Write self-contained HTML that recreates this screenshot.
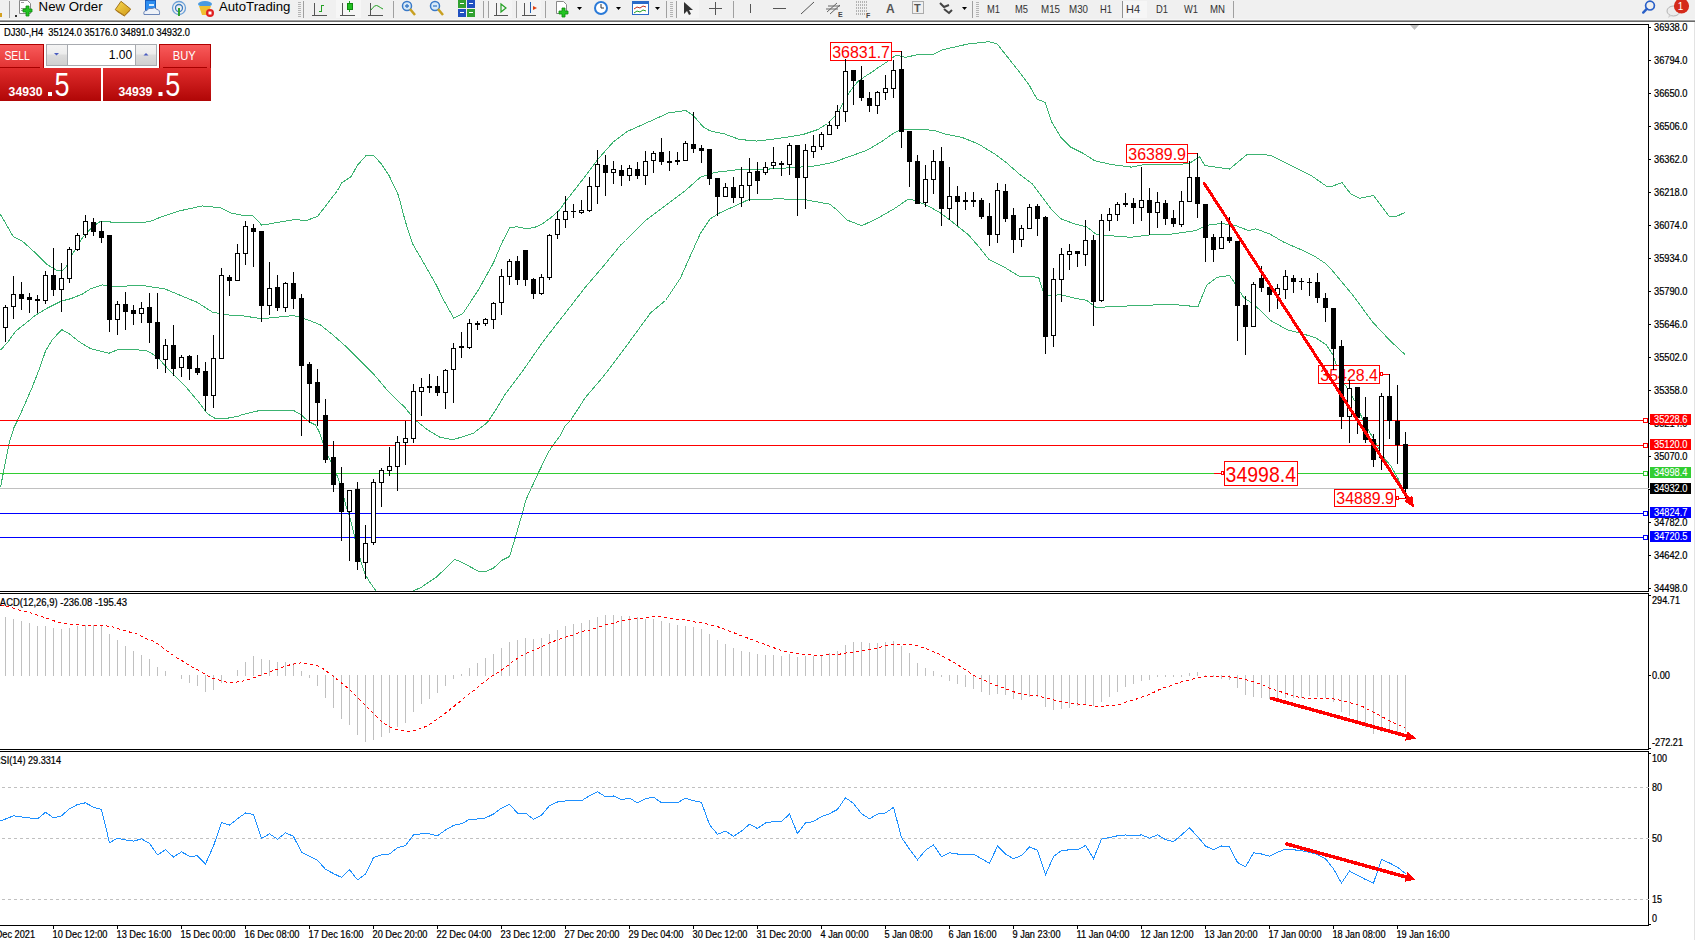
<!DOCTYPE html><html><head><meta charset="utf-8"><style>html,body{margin:0;padding:0;background:#fff;overflow:hidden}svg{display:block}text{font-family:"Liberation Sans", sans-serif}</style></head><body>
<svg width="1695" height="940" viewBox="0 0 1695 940">
<rect x="0" y="0" width="1695" height="940" fill="#fff"/>
<rect x="0" y="0" width="1695" height="19" fill="#f0f0f0"/>
<rect x="0" y="19" width="1695" height="1" fill="#f6f6f6"/>
<rect x="0" y="20" width="1695" height="1" fill="#a0a0a0"/>
<rect x="0" y="21" width="1695" height="1" fill="#696969"/>
<g id="toolbar">
<g shape-rendering="crispEdges">
<rect x="0" y="13" width="2" height="4" fill="#d4a020"/>
<rect x="9" y="1" width="1" height="17" fill="#a0a0a0"/>
<rect x="15" y="15" width="2" height="2" fill="#333"/>
</g>
<path d="M19.5,0.5 h8 l3,3 v10 h-11 z" fill="#fff" stroke="#888" stroke-width="1"/>
<rect x="21" y="2" width="3" height="1" fill="#999"/><rect x="21" y="8" width="6" height="1" fill="#999"/><rect x="21" y="10" width="6" height="1" fill="#999"/>
<path d="M26,6 h3 v3 h3 v3 h-3 v4 h-3 v-4 h-3 v-3 h3 z" fill="#22c322" stroke="#0a8a0a" stroke-width="0.8"/>
<text x="38.6" y="10.5" font-size="12" fill="#000" textLength="64" lengthAdjust="spacingAndGlyphs">New Order</text>
<defs><linearGradient id="gbook" x1="0" y1="0" x2="1" y2="1"><stop offset="0" stop-color="#f8d850"/><stop offset="1" stop-color="#d09a18"/></linearGradient></defs>
<path d="M115.2,9.7 L121,1.3 L130.7,9.1 L124.6,15.6 Z" fill="url(#gbook)" stroke="#9a6a10" stroke-width="0.9"/>
<path d="M116.5,11 L124.3,16 L130.2,10.3" fill="none" stroke="#b07818" stroke-width="1"/>
<rect x="145.5" y="0.5" width="10" height="10" fill="#2e8ef0" stroke="#1a60c0" stroke-width="1"/>
<rect x="149" y="4" width="5" height="2" fill="#d8ecff"/>
<path d="M144,14.5 q-1,-4 3,-4 q1,-3 5,-2 q3,-2 5,1 q3,0 2.5,5 z" fill="#eef2f8" stroke="#5a78b0" stroke-width="0.9"/>
<circle cx="179" cy="8" r="6.5" fill="none" stroke="#6aa0d8" stroke-width="1.3"/>
<circle cx="179" cy="8" r="3.5" fill="none" stroke="#3a7ac0" stroke-width="1.3"/>
<path d="M179,8 v8" stroke="#30a030" stroke-width="2"/>
<ellipse cx="205" cy="4" rx="7" ry="3" fill="#4a9ae0"/>
<path d="M199,6 h12 l-3,9 h-6 z" fill="#f0c030"/>
<circle cx="210" cy="13" r="4" fill="#e02020"/><rect x="208.5" y="11.5" width="3" height="3" fill="#fff"/>
<text x="218.9" y="10.5" font-size="12" fill="#000" textLength="71.5" lengthAdjust="spacingAndGlyphs">AutoTrading</text>
<g shape-rendering="crispEdges">
<rect x="298" y="2" width="3" height="1" fill="#b4b4b4"/><rect x="298" y="4" width="3" height="1" fill="#b4b4b4"/><rect x="298" y="6" width="3" height="1" fill="#b4b4b4"/><rect x="298" y="8" width="3" height="1" fill="#b4b4b4"/><rect x="298" y="10" width="3" height="1" fill="#b4b4b4"/><rect x="298" y="12" width="3" height="1" fill="#b4b4b4"/><rect x="298" y="14" width="3" height="1" fill="#b4b4b4"/><rect x="298" y="16" width="3" height="1" fill="#b4b4b4"/>
<rect x="303" y="1" width="1" height="17" fill="#a0a0a0"/>
<rect x="314" y="3" width="1" height="13" fill="#555"/><rect x="312" y="15" width="15" height="1" fill="#555"/>
<rect x="321" y="5" width="1" height="7" fill="#22a022"/><rect x="322" y="5" width="2" height="1" fill="#22a022"/><rect x="319" y="11" width="2" height="1" fill="#22a022"/>
<rect x="336" y="0" width="25" height="18" fill="#f6f6f6"/>
<rect x="342" y="3" width="1" height="13" fill="#555"/><rect x="340" y="15" width="15" height="1" fill="#555"/>
<rect x="349" y="1" width="1" height="11" fill="#22a022"/><rect x="347" y="3" width="5" height="6" fill="#22c022" stroke="#118811"/>
<rect x="370" y="3" width="1" height="13" fill="#555"/><rect x="368" y="15" width="15" height="1" fill="#555"/>
</g>
<path d="M371,10 q4,-6 7,-4 t5,3" fill="none" stroke="#22a022" stroke-width="1"/>
<g shape-rendering="crispEdges">
<rect x="393" y="1" width="1" height="17" fill="#a0a0a0"/>
</g>
<circle cx="407" cy="6" r="4.5" fill="#d8eaf8" stroke="#3a7ac8" stroke-width="1.5"/>
<path d="M410,9 l5,6" stroke="#c8a020" stroke-width="2.5"/>
<path d="M405,6 h4 M407,4 v4" stroke="#3a7ac8" stroke-width="1.3"/>
<circle cx="435" cy="6" r="4.5" fill="#d8eaf8" stroke="#3a7ac8" stroke-width="1.5"/>
<path d="M438,9 l5,6" stroke="#c8a020" stroke-width="2.5"/>
<path d="M433,6 h4" stroke="#3a7ac8" stroke-width="1.3"/>
<g shape-rendering="crispEdges">
<rect x="458" y="0" width="8" height="8" fill="#30a030"/><rect x="467" y="0" width="8" height="8" fill="#2050c0"/>
<rect x="458" y="9" width="8" height="8" fill="#2050c0"/><rect x="467" y="9" width="8" height="8" fill="#30a030"/>
<rect x="460" y="3" width="4" height="1" fill="#fff"/><rect x="469" y="3" width="4" height="1" fill="#fff"/>
<rect x="460" y="12" width="4" height="1" fill="#fff"/><rect x="469" y="12" width="4" height="1" fill="#fff"/>
<rect x="483" y="1" width="1" height="17" fill="#a0a0a0"/>
<rect x="488" y="1" width="1" height="17" fill="#a0a0a0"/>
<rect x="489" y="0" width="23" height="18" fill="#f4f4f4"/>
<rect x="496" y="3" width="1" height="13" fill="#555"/><rect x="494" y="15" width="14" height="1" fill="#555"/>
<rect x="516" y="1" width="1" height="17" fill="#a0a0a0"/>
<rect x="517" y="0" width="24" height="18" fill="#f4f4f4"/>
<rect x="524" y="3" width="1" height="13" fill="#555"/><rect x="522" y="15" width="14" height="1" fill="#555"/>
<rect x="530" y="2" width="1" height="11" fill="#2060b0"/>
<rect x="545" y="1" width="1" height="17" fill="#a0a0a0"/>
</g>
<polygon points="501,4 506,8 501,12" fill="none" stroke="#22a022" stroke-width="1.2"/>
<polygon points="537,8 533,6 533,10" fill="#e04010"/>
<path d="M556.5,1.5 h7 l3,3 v9 h-10 z" fill="#fff" stroke="#888" stroke-width="1"/>
<path d="M562,8 h3 v3 h3 v3 h-3 v3 h-3 v-3 h-3 v-3 h3 z" fill="#22c322" stroke="#0a8a0a" stroke-width="0.8"/>
<polygon points="577,7 582,7 579.5,10" fill="#000"/>
<circle cx="601" cy="8" r="7" fill="#2a7ad8"/><circle cx="601" cy="8" r="5" fill="#fff"/>
<path d="M601,4 v4 h3" stroke="#333" stroke-width="1" fill="none"/>
<polygon points="616,7 621,7 618.5,10" fill="#000"/>
<rect x="632.5" y="1.5" width="16" height="13" fill="#fff" stroke="#2a6ac8" stroke-width="1"/>
<rect x="633" y="2" width="15" height="2" fill="#2a6ac8"/>
<path d="M634,9 l3,-2 l3,1 l3,-2 l3,1" stroke="#c03020" fill="none" stroke-width="1"/>
<path d="M634,13 l3,-2 l3,1 l3,-2 l3,1" stroke="#20a020" fill="none" stroke-width="1"/>
<polygon points="655,7 660,7 657.5,10" fill="#000"/>
<g shape-rendering="crispEdges">
<rect x="666" y="1" width="1" height="17" fill="#a0a0a0"/>
<rect x="670" y="2" width="3" height="1" fill="#b4b4b4"/><rect x="670" y="4" width="3" height="1" fill="#b4b4b4"/><rect x="670" y="6" width="3" height="1" fill="#b4b4b4"/><rect x="670" y="8" width="3" height="1" fill="#b4b4b4"/><rect x="670" y="10" width="3" height="1" fill="#b4b4b4"/><rect x="670" y="12" width="3" height="1" fill="#b4b4b4"/><rect x="670" y="14" width="3" height="1" fill="#b4b4b4"/><rect x="670" y="16" width="3" height="1" fill="#b4b4b4"/>
<rect x="676" y="1" width="1" height="17" fill="#a0a0a0"/>
<rect x="677" y="0" width="22" height="18" fill="#f4f4f4"/>
</g>
<path d="M684,2 v12 l3,-3 l2,4 l2,-1 l-2,-4 h4 z" fill="#333"/>
<g shape-rendering="crispEdges">
<rect x="715" y="2" width="1" height="13" fill="#555"/><rect x="709" y="8" width="13" height="1" fill="#555"/>
<rect x="733" y="1" width="1" height="17" fill="#a0a0a0"/>
<rect x="750" y="4" width="1" height="9" fill="#555"/>
<rect x="773" y="8" width="13" height="1" fill="#555"/>
</g>
<path d="M801,14 l13,-12" stroke="#555" stroke-width="1"/>
<path d="M827,12 l10,-9 M830,14 l10,-9 M826,9 h12 M828,6 h12" stroke="#666" stroke-width="1"/>
<text x="838" y="17" font-size="7" fill="#444" font-weight="bold">E</text>
<path d="M856,2 h12 M856,5 h12 M856,8 h12 M856,11 h12 M856,14 h10" stroke="#777" stroke-width="1" stroke-dasharray="1,1"/>
<text x="866" y="18" font-size="7" fill="#444" font-weight="bold">F</text>
<text x="886" y="13" font-size="12" fill="#555" font-weight="bold">A</text>
<rect x="912.5" y="1.5" width="11" height="12" fill="none" stroke="#666" stroke-dasharray="1,1"/>
<text x="914" y="12" font-size="11" fill="#555" font-weight="bold">T</text>
<path d="M940,3 l4,4 l5,-2 M944,9 l5,4 l3,-3" stroke="#444" stroke-width="2" fill="none"/>
<polygon points="962,7 967,7 964.5,10" fill="#000"/>
<g shape-rendering="crispEdges">
<rect x="972" y="1" width="1" height="17" fill="#a0a0a0"/>
<rect x="976" y="2" width="3" height="1" fill="#b4b4b4"/><rect x="976" y="4" width="3" height="1" fill="#b4b4b4"/><rect x="976" y="6" width="3" height="1" fill="#b4b4b4"/><rect x="976" y="8" width="3" height="1" fill="#b4b4b4"/><rect x="976" y="10" width="3" height="1" fill="#b4b4b4"/><rect x="976" y="12" width="3" height="1" fill="#b4b4b4"/><rect x="976" y="14" width="3" height="1" fill="#b4b4b4"/><rect x="976" y="16" width="3" height="1" fill="#b4b4b4"/>
</g>
<g shape-rendering="crispEdges">
<rect x="1122" y="1" width="1" height="17" fill="#909090"/>
<rect x="1123" y="1" width="24" height="17" fill="#f6f6f6"/>
<rect x="1233" y="1" width="1" height="17" fill="#a0a0a0"/>
</g>
<text x="987" y="13" font-size="10.5" fill="#333" textLength="13" lengthAdjust="spacingAndGlyphs">M1</text>
<text x="1015" y="13" font-size="10.5" fill="#333" textLength="13" lengthAdjust="spacingAndGlyphs">M5</text>
<text x="1041" y="13" font-size="10.5" fill="#333" textLength="19" lengthAdjust="spacingAndGlyphs">M15</text>
<text x="1069" y="13" font-size="10.5" fill="#333" textLength="19" lengthAdjust="spacingAndGlyphs">M30</text>
<text x="1100" y="13" font-size="10.5" fill="#333" textLength="12" lengthAdjust="spacingAndGlyphs">H1</text>
<text x="1126" y="13" font-size="10.5" fill="#333" textLength="14" lengthAdjust="spacingAndGlyphs">H4</text>
<text x="1156" y="13" font-size="10.5" fill="#333" textLength="12" lengthAdjust="spacingAndGlyphs">D1</text>
<text x="1184" y="13" font-size="10.5" fill="#333" textLength="14" lengthAdjust="spacingAndGlyphs">W1</text>
<text x="1210" y="13" font-size="10.5" fill="#333" textLength="15" lengthAdjust="spacingAndGlyphs">MN</text>
<circle cx="1650" cy="5.6" r="4.4" fill="none" stroke="#2a60c8" stroke-width="1.7"/>
<path d="M1646.8,8.8 l-3.6,3.8" stroke="#2a60c8" stroke-width="2.4" stroke-linecap="round"/>
<ellipse cx="1673.5" cy="11" rx="6.5" ry="5" fill="#ececec" stroke="#b4b4b4" stroke-width="1"/>
<path d="M1669,15 l-1,3 l4,-2.5 z" fill="#d0d0d0"/>
<circle cx="1681.5" cy="6" r="7.6" fill="#d42a1a"/>
<text x="1677.8" y="9.5" font-size="11.5" fill="#fff" textLength="5.5" lengthAdjust="spacingAndGlyphs">1</text>
</g>
<g shape-rendering="crispEdges">
<rect x="1694" y="22" width="1" height="918" fill="#e3e3e3"/>
<rect x="0" y="24" width="1649" height="1" fill="#000"/>
<rect x="0" y="591" width="1649" height="1" fill="#000"/>
<rect x="0" y="593" width="1649" height="1" fill="#000"/>
<rect x="0" y="749" width="1649" height="1" fill="#000"/>
<rect x="0" y="751" width="1649" height="1" fill="#000"/>
<rect x="0" y="925" width="1649" height="1" fill="#000"/>
<rect x="1648" y="24" width="1" height="568" fill="#000"/>
<rect x="1648" y="593" width="1" height="157" fill="#000"/>
<rect x="1648" y="751" width="1" height="175" fill="#000"/>
</g>
<polygon points="1410,25 1419,25 1414.5,30" fill="#c0c0c0"/>
<defs><clipPath id="cm"><rect x="0" y="25" width="1648" height="566"/></clipPath><clipPath id="cmacd"><rect x="0" y="594" width="1648" height="155"/></clipPath><clipPath id="crsi"><rect x="0" y="752" width="1648" height="173"/></clipPath></defs>
<g clip-path="url(#cm)">
<g fill="none" stroke="#3cb371" stroke-width="1" shape-rendering="crispEdges">
<polyline points="0.5,214.5 13.4,236.8 22.7,241.5 35.6,253.1 47.3,264.8 56.6,270.2 62.5,270.2 66,267.2 73,253.1 82.4,237.9 92.9,226.2 101.1,221.1 119.7,222.9 149,221.9 162.3,216.5 178.2,211.2 202.1,205.9 220.7,207.8 231.4,213.1 240.5,215 252.5,215.7 261.8,225.1 267.1,224.3 280.4,221.9 293.7,219.7 306.9,220.3 317.6,216.5 328.2,202.5 337.5,190.5 341.7,182.9 350.8,176.9 357.9,164.7 366,155.7 374,155.7 381.1,163.7 389.2,175.9 398.3,195 405.3,221.3 412.4,243.5 419.5,255.7 435.7,283.9 443.7,300.1 453.8,318.3 462.9,313.5 478.4,289.9 493.3,263.1 502.2,242.2 509.7,227.9 517.1,226.7 526.1,228.8 535,227.3 542.4,223.7 549.9,218.4 558.8,210.9 566.3,200.5 570.5,195.1 585.5,175.9 597.9,159.3 613.2,142 627,131.6 640.8,125.4 654.7,119.2 668.5,112.9 685.8,110.5 693.4,115.7 703.1,126.8 710,130.9 723.8,133.7 739.4,139.4 756.6,141.1 771.2,139.4 788.4,136.9 803,134.5 817.7,129.6 827.5,123.5 837.3,113.7 848.2,94.2 853.4,86.8 857.8,81.6 863,77.8 867.5,74.9 872.7,71.5 877.2,68.2 883.2,64.4 887.6,61.5 896,55 905.8,57.4 915.6,55 933.3,54.4 942.8,49.7 968.4,43.9 989.1,41.7 997.1,43.9 1006.7,56 1019.4,72 1029,84.8 1037,99.1 1045,102.3 1051.4,121.5 1060.9,137.4 1070.5,147 1083.3,153.4 1094.5,160.7 1112,164.6 1131.2,167.1 1143.9,164.6 1171.6,164.9 1189.1,163.5 1199.7,156.8 1204.9,165.6 1229.5,169.1 1247.1,154.4 1269.9,155.1 1290.9,165.6 1312,176.1 1326.1,186 1333.1,186 1341.9,182.5 1350.6,193.7 1359.4,198.3 1373.5,195.5 1389.3,216.5 1396.3,216.5 1405.1,212.3"/>
<polyline points="0.5,350.2 8.2,341.6 15.8,331 29.2,320.5 35.6,315.1 47.3,308.1 61.3,301.1 70.7,298.7 82.4,294.1 90.5,288.9 102.5,284.9 111.8,286.3 143.7,285.7 164.9,288.9 180.9,295.6 196.9,302.2 212.8,312.3 228.8,315 240.5,315.5 261.8,318.7 293.7,315.5 306.9,319.5 320.2,324.8 333.6,335.5 346.9,347.4 360.2,360.7 373.5,374 389.4,392.7 400.5,403.3 404.1,406.5 414.4,419.3 427.1,429.5 439.9,437.2 452.7,439.7 460.5,437.4 473.9,432.9 487.3,422.5 496.3,409.1 505.2,394.2 523.1,370.3 543.9,340.5 564.8,313.7 585.6,286.9 603.5,266.1 620.5,245.2 625.5,240.5 645.5,220.5 665.5,205.5 685.5,190.5 700.3,177.3 715,172.4 739.4,169.5 759,169.5 776.1,168.7 793.3,167.5 812.8,166.3 832.4,162.6 849.5,156.5 866.6,150.4 881.3,141.8 893.6,133.3 900.9,129.6 910.7,129.6 933.3,130.1 946,134.2 962,137.4 978,143.8 993.9,153.4 1006.7,163 1019.4,174.1 1032.2,183.7 1041.8,196.5 1051.4,209.2 1060.9,218.8 1073.7,223.6 1086.5,226.8 1096,234.1 1105.6,235.4 1131.2,237.3 1150.3,234.8 1171.6,234.1 1196.1,230.6 1206.7,225.3 1220.7,223.5 1234.8,225.3 1248.8,230.6 1255.8,228.8 1269.9,234.1 1283.9,242.2 1301.5,249.9 1315.5,256.9 1326.1,263.9 1330.5,268.4 1351.8,293.9 1373.1,322.6 1390.1,340.7 1405,354.5"/>
<polyline points="0.5,487.2 4.3,468 9.1,443.1 13.9,427.8 17.7,420.1 25.4,402.9 32.1,387.5 38.8,370.3 45.5,351.2 52.2,339.7 61.8,329.7 69.5,333.9 79,341.6 86.7,346.4 90.5,348.6 109.1,353.2 117.1,350 130.4,349.4 146.3,350.5 156.9,356.6 170.2,371.2 186.2,387.2 199.5,403.1 207.4,413.8 215.4,418.5 226,418.5 239.3,415.9 240.5,415.2 259.1,410.6 293.7,410.6 300.5,414.3 309,421.8 315.4,425 319.6,432.4 323.9,445.2 328.2,456.9 332.4,464.3 337.7,477.1 342,489.9 346.2,506.9 350.5,519.6 353.7,532.4 356.9,547.3 361.1,562.2 365.4,575 370.7,583.5 376,590.9 378.5,593.5 385.5,600.5 400.5,602.5 410.5,594.5 412.5,591.3 421.4,587.2 436.7,576.9 454.4,559.7 459.1,560.9 478,571 486.8,571 493.3,568.3 502,560.2 509.6,556.4 515.4,537.2 522.1,514.3 525.9,499.9 531.6,487.5 538.3,473.1 547.9,453 552.7,445.4 559.4,436.8 565.1,426.2 570.5,420.5 585.6,397.2 603.5,376.3 620.5,354 650.5,313 665.5,300.5 680.5,278 690.5,255.5 700.3,233.6 710.1,218.9 719.9,212.8 734.5,206.2 749.2,199.3 763.9,199.3 778.6,198.8 805.5,199.8 829.9,204.2 837.3,210.3 847.1,220.1 861.8,225.7 876.4,218.9 893.6,209.1 908.2,199.3 915.6,200.5 926.9,205.4 939.7,212.4 952.4,222 968.4,234.8 979.5,247.5 989.1,259.7 1003.5,266.7 1019.4,276.3 1038.6,277.2 1043.4,292.2 1048.2,295.4 1060.9,294.8 1076.9,298.6 1086.5,300.2 1096,307.5 1112,306.6 1137.5,305.6 1171.6,304.3 1197.9,306.8 1206.7,285 1217.2,277.3 1229.5,275.5 1234.8,283.2 1243.5,297.3 1255.8,306.1 1269.9,320.1 1287.5,329.9 1301.5,333.5 1315.5,337.7 1326.1,344.7 1333.1,355.2 1340.1,376.3 1345.8,386 1356,403 1362.8,420 1384.9,459.1 1390.9,465.9 1398.5,479.5 1403.6,493.2"/>
</g>
<g shape-rendering="crispEdges">
<rect x="0" y="420" width="1643" height="1" fill="#ff0000"/>
<rect x="1643.5" y="418.5" width="4" height="4" fill="#fff" stroke="#ff0000" stroke-width="1"/>
<rect x="0" y="445" width="1643" height="1" fill="#ff0000"/>
<rect x="1643.5" y="443.5" width="4" height="4" fill="#fff" stroke="#ff0000" stroke-width="1"/>
<rect x="0" y="473" width="1643" height="1" fill="#32cd32"/>
<rect x="1643.5" y="471.5" width="4" height="4" fill="#fff" stroke="#32cd32" stroke-width="1"/>
<rect x="0" y="513" width="1643" height="1" fill="#0000ff"/>
<rect x="1643.5" y="511.5" width="4" height="4" fill="#fff" stroke="#0000ff" stroke-width="1"/>
<rect x="0" y="537" width="1643" height="1" fill="#0000ff"/>
<rect x="1643.5" y="535.5" width="4" height="4" fill="#fff" stroke="#0000ff" stroke-width="1"/>
<rect x="0" y="488" width="1648" height="1" fill="#c0c0c0"/>
</g>
<rect x="830.5" y="42.5" width="61" height="18" fill="#fff" stroke="#ff0000" stroke-width="1" shape-rendering="crispEdges"/>
<text x="832.2" y="58" font-size="17" fill="#ff0000" textLength="57.8" lengthAdjust="spacingAndGlyphs" >36831.7</text>
<rect x="892" y="51" width="10" height="1" fill="#ff0000" shape-rendering="crispEdges"/>
<rect x="1126.5" y="144.5" width="61" height="18" fill="#fff" stroke="#ff0000" stroke-width="1" shape-rendering="crispEdges"/>
<text x="1128.3" y="160" font-size="17" fill="#ff0000" textLength="57.7" lengthAdjust="spacingAndGlyphs" >36389.9</text>
<rect x="1188" y="153" width="10" height="1" fill="#ff0000" shape-rendering="crispEdges"/>
<rect x="1318.5" y="365.5" width="61" height="18" fill="#fff" stroke="#ff0000" stroke-width="1" shape-rendering="crispEdges"/>
<text x="1320.3" y="381" font-size="17" fill="#ff0000" textLength="57.7" lengthAdjust="spacingAndGlyphs" >35428.4</text>
<rect x="1383" y="374" width="7" height="1" fill="#ff0000" shape-rendering="crispEdges"/><rect x="1380.5" y="372.5" width="2" height="3" fill="#fff" stroke="#ff0000" stroke-width="1" shape-rendering="crispEdges"/>
<rect x="1334.5" y="489.5" width="61" height="17" fill="#fff" stroke="#ff0000" stroke-width="1" shape-rendering="crispEdges"/>
<text x="1336.3" y="504" font-size="17" fill="#ff0000" textLength="57.7" lengthAdjust="spacingAndGlyphs" >34889.9</text>
<rect x="1399" y="498" width="7" height="1" fill="#ff0000" shape-rendering="crispEdges"/><rect x="1396.5" y="496.5" width="2" height="3" fill="#fff" stroke="#ff0000" stroke-width="1" shape-rendering="crispEdges"/>
<rect x="1224.5" y="461.5" width="73" height="24" fill="#fff" stroke="#ff0000" stroke-width="1" shape-rendering="crispEdges"/>
<text x="1225.6" y="482" font-size="22" fill="#ff0000" textLength="70.4" lengthAdjust="spacingAndGlyphs" >34998.4</text>
<rect x="1214" y="473" width="8" height="1" fill="#ff0000" shape-rendering="crispEdges"/><rect x="1221.5" y="471.5" width="2" height="3" fill="#fff" stroke="#ff0000" stroke-width="1" shape-rendering="crispEdges"/>
<g shape-rendering="crispEdges">
<rect x="5" y="305" width="1" height="37" fill="#000"/>
<rect x="3.5" y="307.5" width="4" height="20" fill="#fff" stroke="#000" stroke-width="1"/>
<rect x="13" y="276" width="1" height="43" fill="#000"/>
<rect x="11.5" y="294.5" width="4" height="12" fill="#fff" stroke="#000" stroke-width="1"/>
<rect x="21" y="282" width="1" height="28" fill="#000"/>
<rect x="19" y="294" width="5" height="5" fill="#000"/>
<rect x="29" y="293" width="1" height="20" fill="#000"/>
<rect x="27" y="297" width="5" height="3" fill="#000"/>
<rect x="37" y="295" width="1" height="18" fill="#000"/>
<rect x="35" y="299" width="5" height="2" fill="#000"/>
<rect x="45" y="271" width="1" height="33" fill="#000"/>
<rect x="43.5" y="275.5" width="4" height="25" fill="#fff" stroke="#000" stroke-width="1"/>
<rect x="53" y="248" width="1" height="48" fill="#000"/>
<rect x="51" y="275" width="5" height="15" fill="#000"/>
<rect x="61" y="263" width="1" height="49" fill="#000"/>
<rect x="59.5" y="278.5" width="4" height="11" fill="#fff" stroke="#000" stroke-width="1"/>
<rect x="69" y="247" width="1" height="36" fill="#000"/>
<rect x="67.5" y="249.5" width="4" height="29" fill="#fff" stroke="#000" stroke-width="1"/>
<rect x="77" y="233" width="1" height="18" fill="#000"/>
<rect x="75.5" y="235.5" width="4" height="14" fill="#fff" stroke="#000" stroke-width="1"/>
<rect x="85" y="215" width="1" height="23" fill="#000"/>
<rect x="83.5" y="221.5" width="4" height="13" fill="#fff" stroke="#000" stroke-width="1"/>
<rect x="93" y="218" width="1" height="18" fill="#000"/>
<rect x="91" y="222" width="5" height="10" fill="#000"/>
<rect x="101" y="221" width="1" height="22" fill="#000"/>
<rect x="99" y="231" width="5" height="7" fill="#000"/>
<rect x="109" y="235" width="1" height="97" fill="#000"/>
<rect x="107" y="235" width="5" height="85" fill="#000"/>
<rect x="117" y="301" width="1" height="34" fill="#000"/>
<rect x="115.5" y="304.5" width="4" height="15" fill="#fff" stroke="#000" stroke-width="1"/>
<rect x="125" y="292" width="1" height="38" fill="#000"/>
<rect x="123" y="304" width="5" height="8" fill="#000"/>
<rect x="133" y="305" width="1" height="20" fill="#000"/>
<rect x="131" y="310" width="5" height="4" fill="#000"/>
<rect x="141" y="302" width="1" height="21" fill="#000"/>
<rect x="139.5" y="308.5" width="4" height="5" fill="#fff" stroke="#000" stroke-width="1"/>
<rect x="149" y="293" width="1" height="50" fill="#000"/>
<rect x="147" y="307" width="5" height="16" fill="#000"/>
<rect x="157" y="293" width="1" height="76" fill="#000"/>
<rect x="155" y="322" width="5" height="37" fill="#000"/>
<rect x="165" y="339" width="1" height="34" fill="#000"/>
<rect x="163.5" y="345.5" width="4" height="14" fill="#fff" stroke="#000" stroke-width="1"/>
<rect x="173" y="325" width="1" height="51" fill="#000"/>
<rect x="171" y="345" width="5" height="24" fill="#000"/>
<rect x="181" y="355" width="1" height="22" fill="#000"/>
<rect x="179.5" y="357.5" width="4" height="10" fill="#fff" stroke="#000" stroke-width="1"/>
<rect x="189" y="355" width="1" height="25" fill="#000"/>
<rect x="187" y="356" width="5" height="13" fill="#000"/>
<rect x="197" y="355" width="1" height="20" fill="#000"/>
<rect x="195" y="368" width="5" height="5" fill="#000"/>
<rect x="205" y="362" width="1" height="49" fill="#000"/>
<rect x="203" y="371" width="5" height="25" fill="#000"/>
<rect x="213" y="335" width="1" height="73" fill="#000"/>
<rect x="211.5" y="358.5" width="4" height="37" fill="#fff" stroke="#000" stroke-width="1"/>
<rect x="221" y="268" width="1" height="91" fill="#000"/>
<rect x="219.5" y="275.5" width="4" height="83" fill="#fff" stroke="#000" stroke-width="1"/>
<rect x="229" y="275" width="1" height="21" fill="#000"/>
<rect x="227" y="277" width="5" height="4" fill="#000"/>
<rect x="237" y="244" width="1" height="37" fill="#000"/>
<rect x="235.5" y="253.5" width="4" height="27" fill="#fff" stroke="#000" stroke-width="1"/>
<rect x="245" y="221" width="1" height="44" fill="#000"/>
<rect x="243.5" y="226.5" width="4" height="27" fill="#fff" stroke="#000" stroke-width="1"/>
<rect x="253" y="224" width="1" height="43" fill="#000"/>
<rect x="251" y="228" width="5" height="4" fill="#000"/>
<rect x="261" y="231" width="1" height="91" fill="#000"/>
<rect x="259" y="231" width="5" height="75" fill="#000"/>
<rect x="269" y="262" width="1" height="53" fill="#000"/>
<rect x="267.5" y="288.5" width="4" height="17" fill="#fff" stroke="#000" stroke-width="1"/>
<rect x="277" y="275" width="1" height="36" fill="#000"/>
<rect x="275" y="287" width="5" height="21" fill="#000"/>
<rect x="285" y="282" width="1" height="30" fill="#000"/>
<rect x="283.5" y="283.5" width="4" height="24" fill="#fff" stroke="#000" stroke-width="1"/>
<rect x="293" y="272" width="1" height="37" fill="#000"/>
<rect x="291" y="283" width="5" height="16" fill="#000"/>
<rect x="301" y="294" width="1" height="142" fill="#000"/>
<rect x="299" y="298" width="5" height="68" fill="#000"/>
<rect x="309" y="362" width="1" height="61" fill="#000"/>
<rect x="307" y="364" width="5" height="20" fill="#000"/>
<rect x="317" y="369" width="1" height="57" fill="#000"/>
<rect x="315" y="382" width="5" height="21" fill="#000"/>
<rect x="325" y="399" width="1" height="64" fill="#000"/>
<rect x="323" y="415" width="5" height="45" fill="#000"/>
<rect x="333" y="441" width="1" height="51" fill="#000"/>
<rect x="331" y="457" width="5" height="28" fill="#000"/>
<rect x="341" y="467" width="1" height="74" fill="#000"/>
<rect x="339" y="483" width="5" height="29" fill="#000"/>
<rect x="349" y="490" width="1" height="71" fill="#000"/>
<rect x="347.5" y="490.5" width="4" height="21" fill="#fff" stroke="#000" stroke-width="1"/>
<rect x="357" y="482" width="1" height="88" fill="#000"/>
<rect x="355" y="489" width="5" height="73" fill="#000"/>
<rect x="365" y="525" width="1" height="54" fill="#000"/>
<rect x="363.5" y="543.5" width="4" height="19" fill="#fff" stroke="#000" stroke-width="1"/>
<rect x="373" y="479" width="1" height="66" fill="#000"/>
<rect x="371.5" y="482.5" width="4" height="60" fill="#fff" stroke="#000" stroke-width="1"/>
<rect x="381" y="468" width="1" height="39" fill="#000"/>
<rect x="379.5" y="470.5" width="4" height="12" fill="#fff" stroke="#000" stroke-width="1"/>
<rect x="389" y="447" width="1" height="29" fill="#000"/>
<rect x="387.5" y="466.5" width="4" height="4" fill="#fff" stroke="#000" stroke-width="1"/>
<rect x="397" y="436" width="1" height="55" fill="#000"/>
<rect x="395.5" y="442.5" width="4" height="24" fill="#fff" stroke="#000" stroke-width="1"/>
<rect x="405" y="421" width="1" height="44" fill="#000"/>
<rect x="403.5" y="438.5" width="4" height="4" fill="#fff" stroke="#000" stroke-width="1"/>
<rect x="413" y="384" width="1" height="59" fill="#000"/>
<rect x="411.5" y="391.5" width="4" height="47" fill="#fff" stroke="#000" stroke-width="1"/>
<rect x="421" y="378" width="1" height="38" fill="#000"/>
<rect x="419.5" y="387.5" width="4" height="4" fill="#fff" stroke="#000" stroke-width="1"/>
<rect x="429" y="374" width="1" height="19" fill="#000"/>
<rect x="427" y="386" width="5" height="2" fill="#000"/>
<rect x="437" y="376" width="1" height="20" fill="#000"/>
<rect x="435" y="386" width="5" height="7" fill="#000"/>
<rect x="445" y="369" width="1" height="40" fill="#000"/>
<rect x="443.5" y="370.5" width="4" height="22" fill="#fff" stroke="#000" stroke-width="1"/>
<rect x="453" y="343" width="1" height="60" fill="#000"/>
<rect x="451.5" y="348.5" width="4" height="21" fill="#fff" stroke="#000" stroke-width="1"/>
<rect x="461" y="332" width="1" height="26" fill="#000"/>
<rect x="459" y="346" width="5" height="2" fill="#000"/>
<rect x="469" y="319" width="1" height="30" fill="#000"/>
<rect x="467.5" y="323.5" width="4" height="24" fill="#fff" stroke="#000" stroke-width="1"/>
<rect x="477" y="321" width="1" height="9" fill="#000"/>
<rect x="475" y="323" width="5" height="2" fill="#000"/>
<rect x="485" y="318" width="1" height="8" fill="#000"/>
<rect x="483.5" y="319.5" width="4" height="4" fill="#fff" stroke="#000" stroke-width="1"/>
<rect x="493" y="302" width="1" height="27" fill="#000"/>
<rect x="491.5" y="303.5" width="4" height="16" fill="#fff" stroke="#000" stroke-width="1"/>
<rect x="501" y="269" width="1" height="46" fill="#000"/>
<rect x="499.5" y="276.5" width="4" height="26" fill="#fff" stroke="#000" stroke-width="1"/>
<rect x="509" y="259" width="1" height="26" fill="#000"/>
<rect x="507.5" y="261.5" width="4" height="15" fill="#fff" stroke="#000" stroke-width="1"/>
<rect x="517" y="256" width="1" height="29" fill="#000"/>
<rect x="515" y="261" width="5" height="19" fill="#000"/>
<rect x="525" y="250" width="1" height="36" fill="#000"/>
<rect x="523" y="250" width="5" height="30" fill="#000"/>
<rect x="533" y="278" width="1" height="21" fill="#000"/>
<rect x="531" y="279" width="5" height="15" fill="#000"/>
<rect x="541" y="274" width="1" height="21" fill="#000"/>
<rect x="539.5" y="277.5" width="4" height="16" fill="#fff" stroke="#000" stroke-width="1"/>
<rect x="549" y="234" width="1" height="46" fill="#000"/>
<rect x="547.5" y="235.5" width="4" height="42" fill="#fff" stroke="#000" stroke-width="1"/>
<rect x="557" y="211" width="1" height="28" fill="#000"/>
<rect x="555.5" y="219.5" width="4" height="15" fill="#fff" stroke="#000" stroke-width="1"/>
<rect x="565" y="196" width="1" height="32" fill="#000"/>
<rect x="563.5" y="211.5" width="4" height="8" fill="#fff" stroke="#000" stroke-width="1"/>
<rect x="573" y="204" width="1" height="14" fill="#000"/>
<rect x="571" y="211" width="5" height="1" fill="#000"/>
<rect x="581" y="200" width="1" height="14" fill="#000"/>
<rect x="579.5" y="210.5" width="4" height="2" fill="#fff" stroke="#000" stroke-width="1"/>
<rect x="589" y="177" width="1" height="35" fill="#000"/>
<rect x="587.5" y="186.5" width="4" height="24" fill="#fff" stroke="#000" stroke-width="1"/>
<rect x="597" y="150" width="1" height="54" fill="#000"/>
<rect x="595.5" y="164.5" width="4" height="22" fill="#fff" stroke="#000" stroke-width="1"/>
<rect x="605" y="155" width="1" height="41" fill="#000"/>
<rect x="603" y="165" width="5" height="8" fill="#000"/>
<rect x="613" y="161" width="1" height="23" fill="#000"/>
<rect x="611.5" y="169.5" width="4" height="3" fill="#fff" stroke="#000" stroke-width="1"/>
<rect x="621" y="165" width="1" height="21" fill="#000"/>
<rect x="619" y="170" width="5" height="6" fill="#000"/>
<rect x="629" y="165" width="1" height="16" fill="#000"/>
<rect x="627.5" y="168.5" width="4" height="7" fill="#fff" stroke="#000" stroke-width="1"/>
<rect x="637" y="162" width="1" height="17" fill="#000"/>
<rect x="635" y="169" width="5" height="7" fill="#000"/>
<rect x="645" y="151" width="1" height="34" fill="#000"/>
<rect x="643.5" y="161.5" width="4" height="14" fill="#fff" stroke="#000" stroke-width="1"/>
<rect x="653" y="151" width="1" height="22" fill="#000"/>
<rect x="651.5" y="153.5" width="4" height="7" fill="#fff" stroke="#000" stroke-width="1"/>
<rect x="661" y="138" width="1" height="27" fill="#000"/>
<rect x="659" y="152" width="5" height="10" fill="#000"/>
<rect x="669" y="151" width="1" height="20" fill="#000"/>
<rect x="667" y="161" width="5" height="2" fill="#000"/>
<rect x="677" y="152" width="1" height="13" fill="#000"/>
<rect x="675" y="160" width="5" height="2" fill="#000"/>
<rect x="685" y="141" width="1" height="20" fill="#000"/>
<rect x="683.5" y="143.5" width="4" height="17" fill="#fff" stroke="#000" stroke-width="1"/>
<rect x="693" y="112" width="1" height="41" fill="#000"/>
<rect x="691" y="144" width="5" height="5" fill="#000"/>
<rect x="701" y="145" width="1" height="18" fill="#000"/>
<rect x="699" y="148" width="5" height="3" fill="#000"/>
<rect x="709" y="149" width="1" height="36" fill="#000"/>
<rect x="707" y="149" width="5" height="30" fill="#000"/>
<rect x="717" y="178" width="1" height="38" fill="#000"/>
<rect x="715" y="178" width="5" height="19" fill="#000"/>
<rect x="725" y="183" width="1" height="14" fill="#000"/>
<rect x="723.5" y="187.5" width="4" height="9" fill="#fff" stroke="#000" stroke-width="1"/>
<rect x="733" y="177" width="1" height="26" fill="#000"/>
<rect x="731" y="187" width="5" height="11" fill="#000"/>
<rect x="741" y="167" width="1" height="40" fill="#000"/>
<rect x="739.5" y="185.5" width="4" height="12" fill="#fff" stroke="#000" stroke-width="1"/>
<rect x="749" y="158" width="1" height="43" fill="#000"/>
<rect x="747.5" y="172.5" width="4" height="13" fill="#fff" stroke="#000" stroke-width="1"/>
<rect x="757" y="162" width="1" height="32" fill="#000"/>
<rect x="755" y="171" width="5" height="10" fill="#000"/>
<rect x="765" y="162" width="1" height="13" fill="#000"/>
<rect x="763.5" y="167.5" width="4" height="5" fill="#fff" stroke="#000" stroke-width="1"/>
<rect x="773" y="147" width="1" height="22" fill="#000"/>
<rect x="771.5" y="162.5" width="4" height="3" fill="#fff" stroke="#000" stroke-width="1"/>
<rect x="781" y="161" width="1" height="15" fill="#000"/>
<rect x="779" y="163" width="5" height="2" fill="#000"/>
<rect x="789" y="143" width="1" height="32" fill="#000"/>
<rect x="787.5" y="145.5" width="4" height="19" fill="#fff" stroke="#000" stroke-width="1"/>
<rect x="797" y="145" width="1" height="71" fill="#000"/>
<rect x="795" y="145" width="5" height="33" fill="#000"/>
<rect x="805" y="144" width="1" height="65" fill="#000"/>
<rect x="803.5" y="150.5" width="4" height="27" fill="#fff" stroke="#000" stroke-width="1"/>
<rect x="813" y="135" width="1" height="23" fill="#000"/>
<rect x="811.5" y="146.5" width="4" height="5" fill="#fff" stroke="#000" stroke-width="1"/>
<rect x="821" y="132" width="1" height="18" fill="#000"/>
<rect x="819.5" y="134.5" width="4" height="12" fill="#fff" stroke="#000" stroke-width="1"/>
<rect x="829" y="121" width="1" height="14" fill="#000"/>
<rect x="827.5" y="125.5" width="4" height="9" fill="#fff" stroke="#000" stroke-width="1"/>
<rect x="837" y="105" width="1" height="24" fill="#000"/>
<rect x="835.5" y="111.5" width="4" height="14" fill="#fff" stroke="#000" stroke-width="1"/>
<rect x="845" y="59" width="1" height="63" fill="#000"/>
<rect x="843.5" y="71.5" width="4" height="40" fill="#fff" stroke="#000" stroke-width="1"/>
<rect x="853" y="70" width="1" height="35" fill="#000"/>
<rect x="851" y="70" width="5" height="11" fill="#000"/>
<rect x="861" y="66" width="1" height="35" fill="#000"/>
<rect x="859" y="80" width="5" height="18" fill="#000"/>
<rect x="869" y="92" width="1" height="20" fill="#000"/>
<rect x="867" y="98" width="5" height="8" fill="#000"/>
<rect x="877" y="91" width="1" height="23" fill="#000"/>
<rect x="875.5" y="92.5" width="4" height="13" fill="#fff" stroke="#000" stroke-width="1"/>
<rect x="885" y="75" width="1" height="25" fill="#000"/>
<rect x="883.5" y="88.5" width="4" height="4" fill="#fff" stroke="#000" stroke-width="1"/>
<rect x="893" y="60" width="1" height="38" fill="#000"/>
<rect x="891.5" y="70.5" width="4" height="18" fill="#fff" stroke="#000" stroke-width="1"/>
<rect x="901" y="51" width="1" height="97" fill="#000"/>
<rect x="899" y="69" width="5" height="63" fill="#000"/>
<rect x="909" y="131" width="1" height="56" fill="#000"/>
<rect x="907" y="131" width="5" height="31" fill="#000"/>
<rect x="917" y="155" width="1" height="49" fill="#000"/>
<rect x="915" y="161" width="5" height="43" fill="#000"/>
<rect x="925" y="165" width="1" height="42" fill="#000"/>
<rect x="923.5" y="179.5" width="4" height="23" fill="#fff" stroke="#000" stroke-width="1"/>
<rect x="933" y="150" width="1" height="44" fill="#000"/>
<rect x="931.5" y="161.5" width="4" height="18" fill="#fff" stroke="#000" stroke-width="1"/>
<rect x="941" y="147" width="1" height="79" fill="#000"/>
<rect x="939" y="161" width="5" height="48" fill="#000"/>
<rect x="949" y="167" width="1" height="53" fill="#000"/>
<rect x="947.5" y="196.5" width="4" height="12" fill="#fff" stroke="#000" stroke-width="1"/>
<rect x="957" y="186" width="1" height="40" fill="#000"/>
<rect x="955" y="196" width="5" height="6" fill="#000"/>
<rect x="965" y="192" width="1" height="18" fill="#000"/>
<rect x="963" y="200" width="5" height="2" fill="#000"/>
<rect x="973" y="192" width="1" height="15" fill="#000"/>
<rect x="971" y="200" width="5" height="2" fill="#000"/>
<rect x="981" y="198" width="1" height="21" fill="#000"/>
<rect x="979" y="200" width="5" height="17" fill="#000"/>
<rect x="989" y="203" width="1" height="43" fill="#000"/>
<rect x="987" y="216" width="5" height="19" fill="#000"/>
<rect x="997" y="183" width="1" height="60" fill="#000"/>
<rect x="995.5" y="190.5" width="4" height="44" fill="#fff" stroke="#000" stroke-width="1"/>
<rect x="1005" y="184" width="1" height="38" fill="#000"/>
<rect x="1003" y="191" width="5" height="28" fill="#000"/>
<rect x="1013" y="208" width="1" height="45" fill="#000"/>
<rect x="1011" y="215" width="5" height="25" fill="#000"/>
<rect x="1021" y="225" width="1" height="22" fill="#000"/>
<rect x="1019.5" y="228.5" width="4" height="11" fill="#fff" stroke="#000" stroke-width="1"/>
<rect x="1029" y="204" width="1" height="25" fill="#000"/>
<rect x="1027.5" y="207.5" width="4" height="21" fill="#fff" stroke="#000" stroke-width="1"/>
<rect x="1037" y="204" width="1" height="32" fill="#000"/>
<rect x="1035" y="206" width="5" height="13" fill="#000"/>
<rect x="1045" y="216" width="1" height="138" fill="#000"/>
<rect x="1043" y="217" width="5" height="120" fill="#000"/>
<rect x="1053" y="268" width="1" height="79" fill="#000"/>
<rect x="1051.5" y="279.5" width="4" height="56" fill="#fff" stroke="#000" stroke-width="1"/>
<rect x="1061" y="248" width="1" height="54" fill="#000"/>
<rect x="1059.5" y="254.5" width="4" height="25" fill="#fff" stroke="#000" stroke-width="1"/>
<rect x="1069" y="244" width="1" height="26" fill="#000"/>
<rect x="1067.5" y="251.5" width="4" height="3" fill="#fff" stroke="#000" stroke-width="1"/>
<rect x="1077" y="251" width="1" height="16" fill="#000"/>
<rect x="1075" y="251" width="5" height="3" fill="#000"/>
<rect x="1085" y="220" width="1" height="46" fill="#000"/>
<rect x="1083.5" y="240.5" width="4" height="14" fill="#fff" stroke="#000" stroke-width="1"/>
<rect x="1093" y="235" width="1" height="91" fill="#000"/>
<rect x="1091" y="240" width="5" height="62" fill="#000"/>
<rect x="1101" y="214" width="1" height="88" fill="#000"/>
<rect x="1099.5" y="220.5" width="4" height="80" fill="#fff" stroke="#000" stroke-width="1"/>
<rect x="1109" y="208" width="1" height="23" fill="#000"/>
<rect x="1107.5" y="214.5" width="4" height="6" fill="#fff" stroke="#000" stroke-width="1"/>
<rect x="1117" y="202" width="1" height="19" fill="#000"/>
<rect x="1115.5" y="204.5" width="4" height="10" fill="#fff" stroke="#000" stroke-width="1"/>
<rect x="1125" y="193" width="1" height="14" fill="#000"/>
<rect x="1123" y="203" width="5" height="2" fill="#000"/>
<rect x="1133" y="198" width="1" height="26" fill="#000"/>
<rect x="1131" y="203" width="5" height="5" fill="#000"/>
<rect x="1141" y="167" width="1" height="54" fill="#000"/>
<rect x="1139.5" y="200.5" width="4" height="7" fill="#fff" stroke="#000" stroke-width="1"/>
<rect x="1149" y="188" width="1" height="47" fill="#000"/>
<rect x="1147" y="200" width="5" height="13" fill="#000"/>
<rect x="1157" y="192" width="1" height="36" fill="#000"/>
<rect x="1155.5" y="202.5" width="4" height="10" fill="#fff" stroke="#000" stroke-width="1"/>
<rect x="1165" y="200" width="1" height="25" fill="#000"/>
<rect x="1163" y="203" width="5" height="16" fill="#000"/>
<rect x="1173" y="210" width="1" height="17" fill="#000"/>
<rect x="1171" y="218" width="5" height="6" fill="#000"/>
<rect x="1181" y="191" width="1" height="36" fill="#000"/>
<rect x="1179.5" y="201.5" width="4" height="23" fill="#fff" stroke="#000" stroke-width="1"/>
<rect x="1189" y="161" width="1" height="41" fill="#000"/>
<rect x="1187.5" y="177.5" width="4" height="24" fill="#fff" stroke="#000" stroke-width="1"/>
<rect x="1197" y="153" width="1" height="65" fill="#000"/>
<rect x="1195" y="177" width="5" height="27" fill="#000"/>
<rect x="1205" y="204" width="1" height="58" fill="#000"/>
<rect x="1203" y="204" width="5" height="34" fill="#000"/>
<rect x="1213" y="234" width="1" height="28" fill="#000"/>
<rect x="1211" y="237" width="5" height="13" fill="#000"/>
<rect x="1221" y="221" width="1" height="28" fill="#000"/>
<rect x="1219.5" y="237.5" width="4" height="11" fill="#fff" stroke="#000" stroke-width="1"/>
<rect x="1229" y="217" width="1" height="26" fill="#000"/>
<rect x="1227" y="237" width="5" height="4" fill="#000"/>
<rect x="1237" y="241" width="1" height="100" fill="#000"/>
<rect x="1235" y="241" width="5" height="65" fill="#000"/>
<rect x="1245" y="296" width="1" height="59" fill="#000"/>
<rect x="1243" y="305" width="5" height="22" fill="#000"/>
<rect x="1253" y="282" width="1" height="45" fill="#000"/>
<rect x="1251.5" y="284.5" width="4" height="42" fill="#fff" stroke="#000" stroke-width="1"/>
<rect x="1261" y="266" width="1" height="26" fill="#000"/>
<rect x="1259" y="278" width="5" height="10" fill="#000"/>
<rect x="1269" y="287" width="1" height="25" fill="#000"/>
<rect x="1267" y="287" width="5" height="8" fill="#000"/>
<rect x="1277" y="284" width="1" height="25" fill="#000"/>
<rect x="1275.5" y="288.5" width="4" height="6" fill="#fff" stroke="#000" stroke-width="1"/>
<rect x="1285" y="270" width="1" height="29" fill="#000"/>
<rect x="1283.5" y="276.5" width="4" height="13" fill="#fff" stroke="#000" stroke-width="1"/>
<rect x="1293" y="275" width="1" height="18" fill="#000"/>
<rect x="1291" y="278" width="5" height="4" fill="#000"/>
<rect x="1301" y="278" width="1" height="12" fill="#000"/>
<rect x="1299" y="281" width="5" height="1" fill="#000"/>
<rect x="1309" y="278" width="1" height="18" fill="#000"/>
<rect x="1307" y="282" width="5" height="1" fill="#000"/>
<rect x="1317" y="273" width="1" height="30" fill="#000"/>
<rect x="1315" y="282" width="5" height="16" fill="#000"/>
<rect x="1325" y="293" width="1" height="29" fill="#000"/>
<rect x="1323" y="298" width="5" height="10" fill="#000"/>
<rect x="1333" y="308" width="1" height="62" fill="#000"/>
<rect x="1331" y="308" width="5" height="41" fill="#000"/>
<rect x="1341" y="340" width="1" height="89" fill="#000"/>
<rect x="1339" y="346" width="5" height="71" fill="#000"/>
<rect x="1349" y="380" width="1" height="63" fill="#000"/>
<rect x="1347.5" y="388.5" width="4" height="28" fill="#fff" stroke="#000" stroke-width="1"/>
<rect x="1357" y="387" width="1" height="47" fill="#000"/>
<rect x="1355" y="387" width="5" height="31" fill="#000"/>
<rect x="1365" y="397" width="1" height="46" fill="#000"/>
<rect x="1363" y="417" width="5" height="23" fill="#000"/>
<rect x="1373" y="434" width="1" height="33" fill="#000"/>
<rect x="1371" y="439" width="5" height="21" fill="#000"/>
<rect x="1381" y="393" width="1" height="77" fill="#000"/>
<rect x="1379.5" y="396.5" width="4" height="61" fill="#fff" stroke="#000" stroke-width="1"/>
<rect x="1389" y="374" width="1" height="65" fill="#000"/>
<rect x="1387" y="396" width="5" height="25" fill="#000"/>
<rect x="1397" y="385" width="1" height="79" fill="#000"/>
<rect x="1395" y="421" width="5" height="24" fill="#000"/>
<rect x="1405" y="432" width="1" height="66" fill="#000"/>
<rect x="1403" y="444" width="5" height="45" fill="#000"/>
</g>
<line x1="1204.3" y1="183.5" x2="1409.11" y2="499.94" stroke="#ff0000" stroke-width="3" stroke-linecap="round" shape-rendering="crispEdges"/>
<polygon points="1414,507.5 1403.83,500.98 1412.22,495.55" fill="#ff0000" shape-rendering="crispEdges"/>
</g>
<rect x="1648" y="488" width="1" height="1" fill="#c0c0c0" shape-rendering="crispEdges"/>
<g shape-rendering="crispEdges">
<rect x="1649" y="27" width="2" height="1" fill="#000"/>
<rect x="1649" y="60" width="2" height="1" fill="#000"/>
<rect x="1649" y="93" width="2" height="1" fill="#000"/>
<rect x="1649" y="126" width="2" height="1" fill="#000"/>
<rect x="1649" y="159" width="2" height="1" fill="#000"/>
<rect x="1649" y="192" width="2" height="1" fill="#000"/>
<rect x="1649" y="225" width="2" height="1" fill="#000"/>
<rect x="1649" y="258" width="2" height="1" fill="#000"/>
<rect x="1649" y="291" width="2" height="1" fill="#000"/>
<rect x="1649" y="324" width="2" height="1" fill="#000"/>
<rect x="1649" y="357" width="2" height="1" fill="#000"/>
<rect x="1649" y="390" width="2" height="1" fill="#000"/>
<rect x="1649" y="423" width="2" height="1" fill="#000"/>
<rect x="1649" y="456" width="2" height="1" fill="#000"/>
<rect x="1649" y="489" width="2" height="1" fill="#000"/>
<rect x="1649" y="522" width="2" height="1" fill="#000"/>
<rect x="1649" y="555" width="2" height="1" fill="#000"/>
<rect x="1649" y="588" width="2" height="1" fill="#000"/>
</g>
<text x="1654" y="31" font-size="10" fill="#000" stroke="#000" stroke-width="0.22" textLength="33.5" lengthAdjust="spacingAndGlyphs" >36938.0</text>
<text x="1654" y="64" font-size="10" fill="#000" stroke="#000" stroke-width="0.22" textLength="33.5" lengthAdjust="spacingAndGlyphs" >36794.0</text>
<text x="1654" y="97" font-size="10" fill="#000" stroke="#000" stroke-width="0.22" textLength="33.5" lengthAdjust="spacingAndGlyphs" >36650.0</text>
<text x="1654" y="130" font-size="10" fill="#000" stroke="#000" stroke-width="0.22" textLength="33.5" lengthAdjust="spacingAndGlyphs" >36506.0</text>
<text x="1654" y="163" font-size="10" fill="#000" stroke="#000" stroke-width="0.22" textLength="33.5" lengthAdjust="spacingAndGlyphs" >36362.0</text>
<text x="1654" y="196" font-size="10" fill="#000" stroke="#000" stroke-width="0.22" textLength="33.5" lengthAdjust="spacingAndGlyphs" >36218.0</text>
<text x="1654" y="229" font-size="10" fill="#000" stroke="#000" stroke-width="0.22" textLength="33.5" lengthAdjust="spacingAndGlyphs" >36074.0</text>
<text x="1654" y="262" font-size="10" fill="#000" stroke="#000" stroke-width="0.22" textLength="33.5" lengthAdjust="spacingAndGlyphs" >35934.0</text>
<text x="1654" y="295" font-size="10" fill="#000" stroke="#000" stroke-width="0.22" textLength="33.5" lengthAdjust="spacingAndGlyphs" >35790.0</text>
<text x="1654" y="328" font-size="10" fill="#000" stroke="#000" stroke-width="0.22" textLength="33.5" lengthAdjust="spacingAndGlyphs" >35646.0</text>
<text x="1654" y="361" font-size="10" fill="#000" stroke="#000" stroke-width="0.22" textLength="33.5" lengthAdjust="spacingAndGlyphs" >35502.0</text>
<text x="1654" y="394" font-size="10" fill="#000" stroke="#000" stroke-width="0.22" textLength="33.5" lengthAdjust="spacingAndGlyphs" >35358.0</text>
<text x="1654" y="427" font-size="10" fill="#000" stroke="#000" stroke-width="0.22" textLength="33.5" lengthAdjust="spacingAndGlyphs" >35214.0</text>
<text x="1654" y="460" font-size="10" fill="#000" stroke="#000" stroke-width="0.22" textLength="33.5" lengthAdjust="spacingAndGlyphs" >35070.0</text>
<text x="1654" y="493" font-size="10" fill="#000" stroke="#000" stroke-width="0.22" textLength="33.5" lengthAdjust="spacingAndGlyphs" >34926.0</text>
<text x="1654" y="526" font-size="10" fill="#000" stroke="#000" stroke-width="0.22" textLength="33.5" lengthAdjust="spacingAndGlyphs" >34782.0</text>
<text x="1654" y="559" font-size="10" fill="#000" stroke="#000" stroke-width="0.22" textLength="33.5" lengthAdjust="spacingAndGlyphs" >34642.0</text>
<text x="1654" y="592" font-size="10" fill="#000" stroke="#000" stroke-width="0.22" textLength="33.5" lengthAdjust="spacingAndGlyphs" >34498.0</text>
<rect x="1650" y="414" width="41" height="11" fill="#ff0000" shape-rendering="crispEdges"/>
<text x="1654" y="423" font-size="10" fill="#fff" stroke="#fff" stroke-width="0.1" textLength="33.5" lengthAdjust="spacingAndGlyphs" >35228.6</text>
<rect x="1650" y="439" width="41" height="11" fill="#ff0000" shape-rendering="crispEdges"/>
<text x="1654" y="448" font-size="10" fill="#fff" stroke="#fff" stroke-width="0.1" textLength="33.5" lengthAdjust="spacingAndGlyphs" >35120.0</text>
<rect x="1650" y="467" width="41" height="11" fill="#32cd32" shape-rendering="crispEdges"/>
<text x="1654" y="476" font-size="10" fill="#fff" stroke="#fff" stroke-width="0.1" textLength="33.5" lengthAdjust="spacingAndGlyphs" >34998.4</text>
<rect x="1650" y="483" width="41" height="11" fill="#000000" shape-rendering="crispEdges"/>
<text x="1654" y="492" font-size="10" fill="#fff" stroke="#fff" stroke-width="0.1" textLength="33.5" lengthAdjust="spacingAndGlyphs" >34932.0</text>
<rect x="1650" y="507" width="41" height="11" fill="#0000ff" shape-rendering="crispEdges"/>
<text x="1654" y="516" font-size="10" fill="#fff" stroke="#fff" stroke-width="0.1" textLength="33.5" lengthAdjust="spacingAndGlyphs" >34824.7</text>
<rect x="1650" y="531" width="41" height="11" fill="#0000ff" shape-rendering="crispEdges"/>
<text x="1654" y="540" font-size="10" fill="#fff" stroke="#fff" stroke-width="0.1" textLength="33.5" lengthAdjust="spacingAndGlyphs" >34720.5</text>
<g clip-path="url(#cmacd)">
<g shape-rendering="crispEdges" fill="#c0c0c0">
<rect x="5" y="617" width="1" height="59"/>
<rect x="13" y="619" width="1" height="57"/>
<rect x="21" y="621" width="1" height="55"/>
<rect x="29" y="623" width="1" height="53"/>
<rect x="37" y="626" width="1" height="50"/>
<rect x="45" y="626" width="1" height="50"/>
<rect x="53" y="628" width="1" height="48"/>
<rect x="61" y="629" width="1" height="47"/>
<rect x="69" y="628" width="1" height="48"/>
<rect x="77" y="626" width="1" height="50"/>
<rect x="85" y="625" width="1" height="51"/>
<rect x="93" y="625" width="1" height="51"/>
<rect x="101" y="625" width="1" height="51"/>
<rect x="109" y="634" width="1" height="42"/>
<rect x="117" y="640" width="1" height="36"/>
<rect x="125" y="646" width="1" height="30"/>
<rect x="133" y="651" width="1" height="25"/>
<rect x="141" y="655" width="1" height="21"/>
<rect x="149" y="659" width="1" height="17"/>
<rect x="157" y="667" width="1" height="9"/>
<rect x="165" y="671" width="1" height="5"/>
<rect x="181" y="675" width="1" height="4"/>
<rect x="189" y="675" width="1" height="8"/>
<rect x="197" y="675" width="1" height="11"/>
<rect x="205" y="675" width="1" height="17"/>
<rect x="213" y="675" width="1" height="15"/>
<rect x="221" y="675" width="1" height="8"/>
<rect x="237" y="670" width="1" height="6"/>
<rect x="245" y="662" width="1" height="14"/>
<rect x="253" y="656" width="1" height="20"/>
<rect x="261" y="659" width="1" height="17"/>
<rect x="269" y="660" width="1" height="16"/>
<rect x="277" y="662" width="1" height="14"/>
<rect x="285" y="662" width="1" height="14"/>
<rect x="293" y="663" width="1" height="13"/>
<rect x="301" y="671" width="1" height="5"/>
<rect x="309" y="675" width="1" height="3"/>
<rect x="317" y="675" width="1" height="11"/>
<rect x="325" y="675" width="1" height="23"/>
<rect x="333" y="675" width="1" height="33"/>
<rect x="341" y="675" width="1" height="44"/>
<rect x="349" y="675" width="1" height="50"/>
<rect x="357" y="675" width="1" height="60"/>
<rect x="365" y="675" width="1" height="67"/>
<rect x="373" y="675" width="1" height="65"/>
<rect x="381" y="675" width="1" height="62"/>
<rect x="389" y="675" width="1" height="58"/>
<rect x="397" y="675" width="1" height="52"/>
<rect x="405" y="675" width="1" height="48"/>
<rect x="413" y="675" width="1" height="37"/>
<rect x="421" y="675" width="1" height="29"/>
<rect x="429" y="675" width="1" height="24"/>
<rect x="437" y="675" width="1" height="18"/>
<rect x="445" y="675" width="1" height="11"/>
<rect x="453" y="675" width="1" height="4"/>
<rect x="461" y="674" width="1" height="2"/>
<rect x="469" y="668" width="1" height="8"/>
<rect x="477" y="663" width="1" height="13"/>
<rect x="485" y="658" width="1" height="18"/>
<rect x="493" y="654" width="1" height="22"/>
<rect x="501" y="648" width="1" height="28"/>
<rect x="509" y="642" width="1" height="34"/>
<rect x="517" y="640" width="1" height="36"/>
<rect x="525" y="638" width="1" height="38"/>
<rect x="533" y="639" width="1" height="37"/>
<rect x="541" y="638" width="1" height="38"/>
<rect x="549" y="634" width="1" height="42"/>
<rect x="557" y="630" width="1" height="46"/>
<rect x="565" y="626" width="1" height="50"/>
<rect x="573" y="624" width="1" height="52"/>
<rect x="581" y="623" width="1" height="53"/>
<rect x="589" y="620" width="1" height="56"/>
<rect x="597" y="617" width="1" height="59"/>
<rect x="605" y="615" width="1" height="61"/>
<rect x="613" y="615" width="1" height="61"/>
<rect x="621" y="616" width="1" height="60"/>
<rect x="629" y="616" width="1" height="60"/>
<rect x="637" y="617" width="1" height="59"/>
<rect x="645" y="619" width="1" height="57"/>
<rect x="653" y="619" width="1" height="57"/>
<rect x="661" y="621" width="1" height="55"/>
<rect x="669" y="623" width="1" height="53"/>
<rect x="677" y="625" width="1" height="51"/>
<rect x="685" y="626" width="1" height="50"/>
<rect x="693" y="627" width="1" height="49"/>
<rect x="701" y="629" width="1" height="47"/>
<rect x="709" y="634" width="1" height="42"/>
<rect x="717" y="640" width="1" height="36"/>
<rect x="725" y="644" width="1" height="32"/>
<rect x="733" y="648" width="1" height="28"/>
<rect x="741" y="651" width="1" height="25"/>
<rect x="749" y="652" width="1" height="24"/>
<rect x="757" y="654" width="1" height="22"/>
<rect x="765" y="655" width="1" height="21"/>
<rect x="773" y="655" width="1" height="21"/>
<rect x="781" y="656" width="1" height="20"/>
<rect x="789" y="654" width="1" height="22"/>
<rect x="797" y="657" width="1" height="19"/>
<rect x="805" y="656" width="1" height="20"/>
<rect x="813" y="656" width="1" height="20"/>
<rect x="821" y="655" width="1" height="21"/>
<rect x="829" y="653" width="1" height="23"/>
<rect x="837" y="651" width="1" height="25"/>
<rect x="845" y="645" width="1" height="31"/>
<rect x="853" y="642" width="1" height="34"/>
<rect x="861" y="642" width="1" height="34"/>
<rect x="869" y="643" width="1" height="33"/>
<rect x="877" y="643" width="1" height="33"/>
<rect x="885" y="642" width="1" height="34"/>
<rect x="893" y="641" width="1" height="35"/>
<rect x="901" y="646" width="1" height="30"/>
<rect x="909" y="653" width="1" height="23"/>
<rect x="917" y="663" width="1" height="13"/>
<rect x="925" y="668" width="1" height="8"/>
<rect x="933" y="671" width="1" height="5"/>
<rect x="941" y="675" width="1" height="2"/>
<rect x="949" y="675" width="1" height="6"/>
<rect x="957" y="675" width="1" height="9"/>
<rect x="965" y="675" width="1" height="12"/>
<rect x="973" y="675" width="1" height="14"/>
<rect x="981" y="675" width="1" height="17"/>
<rect x="989" y="675" width="1" height="20"/>
<rect x="997" y="675" width="1" height="19"/>
<rect x="1005" y="675" width="1" height="20"/>
<rect x="1013" y="675" width="1" height="24"/>
<rect x="1021" y="675" width="1" height="25"/>
<rect x="1029" y="675" width="1" height="22"/>
<rect x="1037" y="675" width="1" height="22"/>
<rect x="1045" y="675" width="1" height="32"/>
<rect x="1053" y="675" width="1" height="35"/>
<rect x="1061" y="675" width="1" height="34"/>
<rect x="1069" y="675" width="1" height="33"/>
<rect x="1077" y="675" width="1" height="31"/>
<rect x="1085" y="675" width="1" height="29"/>
<rect x="1093" y="675" width="1" height="31"/>
<rect x="1101" y="675" width="1" height="27"/>
<rect x="1109" y="675" width="1" height="22"/>
<rect x="1117" y="675" width="1" height="17"/>
<rect x="1125" y="675" width="1" height="12"/>
<rect x="1133" y="675" width="1" height="9"/>
<rect x="1141" y="675" width="1" height="6"/>
<rect x="1149" y="675" width="1" height="5"/>
<rect x="1157" y="675" width="1" height="2"/>
<rect x="1165" y="675" width="1" height="2"/>
<rect x="1173" y="675" width="1" height="2"/>
<rect x="1181" y="675" width="1" height="2"/>
<rect x="1189" y="673" width="1" height="3"/>
<rect x="1197" y="672" width="1" height="4"/>
<rect x="1205" y="675" width="1" height="2"/>
<rect x="1213" y="675" width="1" height="2"/>
<rect x="1221" y="675" width="1" height="4"/>
<rect x="1229" y="675" width="1" height="5"/>
<rect x="1237" y="675" width="1" height="13"/>
<rect x="1245" y="675" width="1" height="20"/>
<rect x="1253" y="675" width="1" height="22"/>
<rect x="1261" y="675" width="1" height="23"/>
<rect x="1269" y="675" width="1" height="24"/>
<rect x="1277" y="675" width="1" height="24"/>
<rect x="1285" y="675" width="1" height="23"/>
<rect x="1293" y="675" width="1" height="23"/>
<rect x="1301" y="675" width="1" height="23"/>
<rect x="1309" y="675" width="1" height="21"/>
<rect x="1317" y="675" width="1" height="22"/>
<rect x="1325" y="675" width="1" height="23"/>
<rect x="1333" y="675" width="1" height="27"/>
<rect x="1341" y="675" width="1" height="37"/>
<rect x="1349" y="675" width="1" height="41"/>
<rect x="1357" y="675" width="1" height="46"/>
<rect x="1365" y="675" width="1" height="53"/>
<rect x="1373" y="675" width="1" height="59"/>
<rect x="1381" y="675" width="1" height="57"/>
<rect x="1389" y="675" width="1" height="55"/>
<rect x="1397" y="675" width="1" height="57"/>
<rect x="1405" y="675" width="1" height="57"/>
</g>
<polyline points="0.5,605.3 3.3,605.6 14.7,608.4 21.7,611 27.4,612 33.1,613.8 39.4,615.8 45.1,617.6 50.8,619.7 57.1,621.9 62.8,623.3 69.2,624 74.8,624.7 81.2,625.1 92.5,625.8 105.3,625.8 112.4,626.8 117.3,628.7 123,629.9 128.6,631.8 135,633.2 140.7,635.7 147,638.9 152.7,641 159.1,644.5 164.7,649.2 170.4,653.4 176.8,657.7 183.2,661.5 188.8,665 195.2,668.6 200.9,671.8 206.5,675 212.9,678.5 218.6,679.9 224.9,681.8 230.6,682.7 238.4,681.8 243.2,680.9 248.9,679.4 254.6,677.6 260.9,674.9 267.3,673.1 273,670.7 278.6,668.8 285,666 291.4,664.6 297,663.4 302.7,662.7 309.1,663.9 315.5,665 321.1,667.4 327.5,671.9 333.2,675.9 338.8,680.9 345.2,685.8 350.9,690.8 356.5,696.4 362.9,702.8 368.5,708.5 374.2,714.4 379.9,720.1 386.3,724.7 391.9,728 398.3,730 404.7,731.1 409.6,731.1 416,730 421.7,728.3 428,725.5 434.4,721.2 440.1,717 446.4,712.4 452.1,707.8 458.5,702.8 464.1,697.8 469.8,693.6 475.4,689.3 481.8,683.7 488.2,679.1 493.8,674.9 500.2,670.9 506.6,666.4 512.2,662.1 517.9,657.9 524.3,654.3 529.9,651.9 536.3,649.4 542,646.6 548.3,643.4 554.7,640.9 560.4,638.8 566,636.9 572.4,635.2 578.8,632.7 584.4,631 590.1,630 596.5,627.9 602.1,626 608.5,623.9 614.2,622.9 620.5,620.8 626.2,619.7 632.6,619 638.2,618.2 644.6,618 651,616.8 656.6,616.8 663,617.1 669.4,618 675.1,619 680.7,619.4 686.4,619.9 692,621.5 698.4,622.5 703.3,623 709.7,624.7 716.1,626.1 721.7,628.2 728.1,630.7 733.8,632.7 740.1,635.3 745.8,637.4 752.2,639.8 757.8,641.9 764.2,644.2 769.9,646.3 776.3,648.7 781.9,650.9 788.3,652 794,653 800.3,654 806,654.8 818,655.1 836.4,654.8 842.1,653.7 847.8,652.7 854.1,651.8 860.5,650.9 866.2,649.9 872.5,648.7 878.2,648 883.9,645.9 890.2,644.8 896.6,644.5 901.6,644.1 908.6,644.1 914.3,644.8 920,646.6 926.3,648.7 932,651.3 937.6,653.2 944,657 950.4,660.5 956,663.8 961.7,667.3 968.1,671.6 973.7,675.1 980.1,678.6 985.8,681 992.1,683.9 997.8,686 1004.2,688.1 1009.8,690.3 1015.5,692.4 1021.9,693.9 1028.2,694.9 1033.9,695.2 1039.6,696.3 1045.9,698 1051.6,699.5 1057.3,700.9 1063.6,702 1070,703 1076.4,703.8 1082,704.4 1087.7,705.1 1094.1,706 1105.4,706 1118.2,705.1 1123.8,702.7 1130.2,700.9 1135.9,699.2 1142.2,697 1147.9,694.9 1154.3,692.1 1159.9,689.3 1166.3,686.9 1171.2,685.6 1177.6,683.1 1184,680.9 1190.3,679.8 1196.7,678.1 1203.1,676.7 1214.4,676.7 1230,677 1237,677.7 1243.4,679.2 1249.8,680.7 1256.2,682.8 1262.5,684.9 1268.2,687.6 1274.6,689.9 1280.9,691.8 1286.6,693.7 1292.3,695.8 1298.6,697.2 1305,698.2 1316.3,698.9 1333.3,698.9 1339.7,700.1 1346.1,701.8 1351.7,703.2 1358.1,705 1363.8,707.1 1370.1,710.7 1375.8,713.5 1382.2,716.8 1387.8,719.9 1394.2,723 1399.9,725.5 1405.5,728.4" fill="none" stroke="#ff0000" stroke-width="1" stroke-dasharray="3,3" shape-rendering="crispEdges"/>
<line x1="1271.3" y1="698.3" x2="1408.29" y2="736.46" stroke="#ff0000" stroke-width="3.5" stroke-linecap="round" shape-rendering="crispEdges"/>
<polygon points="1416,738.6 1405.03,740.74 1407.71,731.1" fill="#ff0000" shape-rendering="crispEdges"/>
</g>
<text x="127" y="606" font-size="10" fill="#000" stroke="#000" stroke-width="0.22" textLength="135" lengthAdjust="spacingAndGlyphs" text-anchor="end" >MACD(12,26,9) -236.08 -195.43</text>
<g shape-rendering="crispEdges">
<rect x="1649" y="595" width="2" height="1" fill="#000"/>
<rect x="1649" y="675" width="2" height="1" fill="#000"/>
<rect x="1649" y="748" width="2" height="1" fill="#000"/>
</g>
<text x="1652" y="604" font-size="10" fill="#000" stroke="#000" stroke-width="0.22" textLength="28" lengthAdjust="spacingAndGlyphs" >294.71</text>
<text x="1652" y="679" font-size="10" fill="#000" stroke="#000" stroke-width="0.22" textLength="18" lengthAdjust="spacingAndGlyphs" >0.00</text>
<text x="1652" y="746" font-size="10" fill="#000" stroke="#000" stroke-width="0.22" textLength="31" lengthAdjust="spacingAndGlyphs" >-272.21</text>
<g>
<g stroke="#c0c0c0" stroke-width="1" stroke-dasharray="3,3" shape-rendering="crispEdges">
<line x1="2" y1="787.5" x2="1649" y2="787.5"/>
<line x1="2" y1="838.5" x2="1649" y2="838.5"/>
<line x1="2" y1="899.5" x2="1649" y2="899.5"/>
</g>
<polyline points="0.5,820.9 5.5,819 13.5,815.8 21.5,816.9 29.5,817.9 37.5,819 45.5,812.2 53.5,817.9 61.5,815.8 69.5,808.8 77.5,804.5 85.5,802.8 93.5,807.3 101.5,809.4 109.5,842.8 117.5,838.1 125.5,840 133.5,841.1 141.5,838.9 149.5,843.4 157.5,854.9 165.5,849.8 173.5,857 181.5,851.9 189.5,856.2 197.5,855.9 205.5,864 213.5,846 221.5,822.6 229.5,825.1 237.5,818.8 245.5,813 253.5,814.5 261.5,838.5 269.5,833.8 277.5,839.2 285.5,832.8 293.5,836.4 301.5,852.3 309.5,856.2 317.5,860.4 325.5,869.3 333.5,873.6 341.5,877.4 349.5,869.7 357.5,879.9 365.5,874 373.5,857.6 381.5,854.9 389.5,854 397.5,847.7 405.5,845.5 413.5,834.9 421.5,833.8 429.5,833.8 437.5,835.8 445.5,830 453.5,825.4 461.5,823.7 469.5,819.4 477.5,819 485.5,817.9 493.5,814.1 501.5,808.1 509.5,804.5 517.5,813 525.5,813 533.5,819.4 541.5,815.2 549.5,805.6 557.5,802 565.5,800.9 573.5,800.9 581.5,800.9 589.5,795.6 597.5,791.8 605.5,796.7 613.5,796 621.5,799.7 629.5,798.2 637.5,802.8 645.5,798.8 653.5,797.1 661.5,802.8 669.5,802.8 677.5,802.8 685.5,798.2 693.5,800.7 701.5,802.4 709.5,824.7 717.5,834.3 725.5,831.1 733.5,836.4 741.5,831.1 749.5,824.3 757.5,828.5 765.5,823 773.5,821.5 781.5,821.5 789.5,814.1 797.5,833.6 805.5,823 813.5,821.5 821.5,816.6 829.5,813.7 837.5,809.4 845.5,797.7 853.5,803.5 861.5,813.7 869.5,818.8 877.5,814.1 885.5,813 893.5,807.3 901.5,837.5 909.5,849.1 917.5,859.8 925.5,850.2 933.5,844.9 941.5,856.6 949.5,852.8 957.5,854 965.5,854 973.5,854 981.5,858.7 989.5,863.4 997.5,846 1005.5,854 1013.5,858.7 1021.5,855.5 1029.5,847 1037.5,850.2 1045.5,874.6 1053.5,856.6 1061.5,850.6 1069.5,849.8 1077.5,849.8 1085.5,845.5 1093.5,858.7 1101.5,839.2 1109.5,837.5 1117.5,835.8 1125.5,834.9 1133.5,835.8 1141.5,834.9 1149.5,838.1 1157.5,834.9 1165.5,839.6 1173.5,841.7 1181.5,834.9 1189.5,827.9 1197.5,836.4 1205.5,846 1213.5,849.8 1221.5,846 1229.5,847 1237.5,862.5 1245.5,866.8 1253.5,852.8 1261.5,854 1269.5,856.2 1277.5,852.3 1285.5,849.1 1293.5,849.8 1301.5,850.6 1309.5,852.3 1317.5,854.5 1325.5,858.7 1333.5,868.9 1341.5,883.1 1349.5,871 1357.5,875.3 1365.5,879.5 1373.5,883.1 1381.5,859.3 1389.5,863 1397.5,867.2 1405.5,873.6" fill="none" stroke="#1e90ff" stroke-width="1" shape-rendering="crispEdges"/>
<line x1="1286.8" y1="844" x2="1407.79" y2="877.47" stroke="#ff0000" stroke-width="3.5" stroke-linecap="round" shape-rendering="crispEdges"/>
<polygon points="1415.5,879.6 1404.53,881.75 1407.2,872.11" fill="#ff0000" shape-rendering="crispEdges"/>
</g>
<text x="61" y="764" font-size="10" fill="#000" stroke="#000" stroke-width="0.22" textLength="67" lengthAdjust="spacingAndGlyphs" text-anchor="end" >RSI(14) 29.3314</text>
<g shape-rendering="crispEdges">
<rect x="1649" y="753" width="2" height="1" fill="#000"/>
<rect x="1649" y="924" width="2" height="1" fill="#000"/>
</g>
<text x="1652" y="762" font-size="10" fill="#000" stroke="#000" stroke-width="0.22" textLength="15" lengthAdjust="spacingAndGlyphs" >100</text>
<text x="1652" y="791" font-size="10" fill="#000" stroke="#000" stroke-width="0.22" textLength="10" lengthAdjust="spacingAndGlyphs" >80</text>
<text x="1652" y="842" font-size="10" fill="#000" stroke="#000" stroke-width="0.22" textLength="10" lengthAdjust="spacingAndGlyphs" >50</text>
<text x="1652" y="903" font-size="10" fill="#000" stroke="#000" stroke-width="0.22" textLength="10" lengthAdjust="spacingAndGlyphs" >15</text>
<text x="1652" y="922" font-size="10" fill="#000" stroke="#000" stroke-width="0.22" textLength="5" lengthAdjust="spacingAndGlyphs" >0</text>
<g shape-rendering="crispEdges">
<rect x="53" y="926" width="1" height="3" fill="#000"/>
<rect x="117" y="926" width="1" height="3" fill="#000"/>
<rect x="181" y="926" width="1" height="3" fill="#000"/>
<rect x="245" y="926" width="1" height="3" fill="#000"/>
<rect x="309" y="926" width="1" height="3" fill="#000"/>
<rect x="373" y="926" width="1" height="3" fill="#000"/>
<rect x="437" y="926" width="1" height="3" fill="#000"/>
<rect x="501" y="926" width="1" height="3" fill="#000"/>
<rect x="565" y="926" width="1" height="3" fill="#000"/>
<rect x="629" y="926" width="1" height="3" fill="#000"/>
<rect x="693" y="926" width="1" height="3" fill="#000"/>
<rect x="757" y="926" width="1" height="3" fill="#000"/>
<rect x="821" y="926" width="1" height="3" fill="#000"/>
<rect x="885" y="926" width="1" height="3" fill="#000"/>
<rect x="949" y="926" width="1" height="3" fill="#000"/>
<rect x="1013" y="926" width="1" height="3" fill="#000"/>
<rect x="1077" y="926" width="1" height="3" fill="#000"/>
<rect x="1141" y="926" width="1" height="3" fill="#000"/>
<rect x="1205" y="926" width="1" height="3" fill="#000"/>
<rect x="1269" y="926" width="1" height="3" fill="#000"/>
<rect x="1333" y="926" width="1" height="3" fill="#000"/>
<rect x="1397" y="926" width="1" height="3" fill="#000"/>
</g>
<text x="35" y="938" font-size="10" fill="#000" stroke="#000" stroke-width="0.22" textLength="47" lengthAdjust="spacingAndGlyphs" text-anchor="end" >9 Dec 2021</text>
<text x="52.5" y="938" font-size="10" fill="#000" stroke="#000" stroke-width="0.22" textLength="55" lengthAdjust="spacingAndGlyphs" >10 Dec 12:00</text>
<text x="116.5" y="938" font-size="10" fill="#000" stroke="#000" stroke-width="0.22" textLength="55" lengthAdjust="spacingAndGlyphs" >13 Dec 16:00</text>
<text x="180.5" y="938" font-size="10" fill="#000" stroke="#000" stroke-width="0.22" textLength="55" lengthAdjust="spacingAndGlyphs" >15 Dec 00:00</text>
<text x="244.5" y="938" font-size="10" fill="#000" stroke="#000" stroke-width="0.22" textLength="55" lengthAdjust="spacingAndGlyphs" >16 Dec 08:00</text>
<text x="308.5" y="938" font-size="10" fill="#000" stroke="#000" stroke-width="0.22" textLength="55" lengthAdjust="spacingAndGlyphs" >17 Dec 16:00</text>
<text x="372.5" y="938" font-size="10" fill="#000" stroke="#000" stroke-width="0.22" textLength="55" lengthAdjust="spacingAndGlyphs" >20 Dec 20:00</text>
<text x="436.5" y="938" font-size="10" fill="#000" stroke="#000" stroke-width="0.22" textLength="55" lengthAdjust="spacingAndGlyphs" >22 Dec 04:00</text>
<text x="500.5" y="938" font-size="10" fill="#000" stroke="#000" stroke-width="0.22" textLength="55" lengthAdjust="spacingAndGlyphs" >23 Dec 12:00</text>
<text x="564.5" y="938" font-size="10" fill="#000" stroke="#000" stroke-width="0.22" textLength="55" lengthAdjust="spacingAndGlyphs" >27 Dec 20:00</text>
<text x="628.5" y="938" font-size="10" fill="#000" stroke="#000" stroke-width="0.22" textLength="55" lengthAdjust="spacingAndGlyphs" >29 Dec 04:00</text>
<text x="692.5" y="938" font-size="10" fill="#000" stroke="#000" stroke-width="0.22" textLength="55" lengthAdjust="spacingAndGlyphs" >30 Dec 12:00</text>
<text x="756.5" y="938" font-size="10" fill="#000" stroke="#000" stroke-width="0.22" textLength="55" lengthAdjust="spacingAndGlyphs" >31 Dec 20:00</text>
<text x="820.5" y="938" font-size="10" fill="#000" stroke="#000" stroke-width="0.22" textLength="48" lengthAdjust="spacingAndGlyphs" >4 Jan 00:00</text>
<text x="884.5" y="938" font-size="10" fill="#000" stroke="#000" stroke-width="0.22" textLength="48" lengthAdjust="spacingAndGlyphs" >5 Jan 08:00</text>
<text x="948.5" y="938" font-size="10" fill="#000" stroke="#000" stroke-width="0.22" textLength="48" lengthAdjust="spacingAndGlyphs" >6 Jan 16:00</text>
<text x="1012.5" y="938" font-size="10" fill="#000" stroke="#000" stroke-width="0.22" textLength="48" lengthAdjust="spacingAndGlyphs" >9 Jan 23:00</text>
<text x="1076.5" y="938" font-size="10" fill="#000" stroke="#000" stroke-width="0.22" textLength="53" lengthAdjust="spacingAndGlyphs" >11 Jan 04:00</text>
<text x="1140.5" y="938" font-size="10" fill="#000" stroke="#000" stroke-width="0.22" textLength="53" lengthAdjust="spacingAndGlyphs" >12 Jan 12:00</text>
<text x="1204.5" y="938" font-size="10" fill="#000" stroke="#000" stroke-width="0.22" textLength="53" lengthAdjust="spacingAndGlyphs" >13 Jan 20:00</text>
<text x="1268.5" y="938" font-size="10" fill="#000" stroke="#000" stroke-width="0.22" textLength="53" lengthAdjust="spacingAndGlyphs" >17 Jan 00:00</text>
<text x="1332.5" y="938" font-size="10" fill="#000" stroke="#000" stroke-width="0.22" textLength="53" lengthAdjust="spacingAndGlyphs" >18 Jan 08:00</text>
<text x="1396.5" y="938" font-size="10" fill="#000" stroke="#000" stroke-width="0.22" textLength="53" lengthAdjust="spacingAndGlyphs" >19 Jan 16:00</text>
<text x="4" y="36" font-size="10" fill="#000" stroke="#000" stroke-width="0.22" textLength="186" lengthAdjust="spacingAndGlyphs" >DJ30-,H4&#160;&#160;35124.0 35176.0 34891.0 34932.0</text>
<defs><linearGradient id="gtop" x1="0" y1="0" x2="0" y2="1"><stop offset="0" stop-color="#f85a5a"/><stop offset="1" stop-color="#e23232"/></linearGradient><linearGradient id="gbot" x1="0" y1="0" x2="0" y2="1"><stop offset="0" stop-color="#e02c2c"/><stop offset="1" stop-color="#b00606"/></linearGradient><linearGradient id="gbtn" x1="0" y1="0" x2="0" y2="1"><stop offset="0" stop-color="#f4f4f4"/><stop offset="0.45" stop-color="#ececec"/><stop offset="0.5" stop-color="#dcdcdc"/><stop offset="1" stop-color="#d0d0d0"/></linearGradient></defs>
<g shape-rendering="crispEdges">
<rect x="0" y="44" width="44" height="24" fill="#b00000"/>
<rect x="0" y="45" width="43" height="23" fill="url(#gtop)"/>
<rect x="0" y="67" width="40" height="1" fill="#a80000"/>
<rect x="159" y="44" width="52" height="24" fill="#b00000"/>
<rect x="160" y="45" width="50" height="23" fill="url(#gtop)"/>
<rect x="163" y="67" width="44" height="1" fill="#a80000"/>
<rect x="0" y="68" width="101" height="33" fill="url(#gbot)"/>
<rect x="103" y="68" width="108" height="33" fill="url(#gbot)"/>
<rect x="43" y="66" width="1" height="2" fill="#b00000"/>
<rect x="46" y="44" width="111" height="22" fill="#a8abb0"/>
<rect x="47" y="45" width="109" height="20" fill="#fff"/>
<rect x="47" y="45" width="20" height="20" fill="url(#gbtn)"/>
<rect x="67" y="45" width="1" height="20" fill="#a8abb0"/>
<rect x="136" y="45" width="20" height="20" fill="url(#gbtn)"/>
<rect x="135" y="45" width="1" height="20" fill="#a8abb0"/>
</g>
<polygon points="54,53 59,53 56.5,55.5" fill="#4a5cc0"/>
<polygon points="143.5,55.5 148.5,55.5 146,53" fill="#4a5cc0"/>
<text x="4.4" y="60" font-size="12.5" fill="#fff" textLength="25.5" lengthAdjust="spacingAndGlyphs">SELL</text>
<text x="172.7" y="60" font-size="12.5" fill="#fff" textLength="23" lengthAdjust="spacingAndGlyphs">BUY</text>
<text x="108.8" y="59" font-size="12" fill="#000" textLength="23.5" lengthAdjust="spacingAndGlyphs">1.00</text>
<text x="8.6" y="96" font-size="12.5" font-weight="bold" fill="#fff" textLength="34" lengthAdjust="spacingAndGlyphs">34930</text>
<text x="118.4" y="96" font-size="12.5" font-weight="bold" fill="#fff" textLength="34" lengthAdjust="spacingAndGlyphs">34939</text>
<rect x="48" y="92" width="4" height="4" fill="#fff"/>
<rect x="158.5" y="92" width="4" height="4" fill="#fff"/>
<text x="54.5" y="96" font-size="33.5" fill="#fff" textLength="15" lengthAdjust="spacingAndGlyphs">5</text>
<text x="165.3" y="96" font-size="33.5" fill="#fff" textLength="15" lengthAdjust="spacingAndGlyphs">5</text>
</svg></body></html>
